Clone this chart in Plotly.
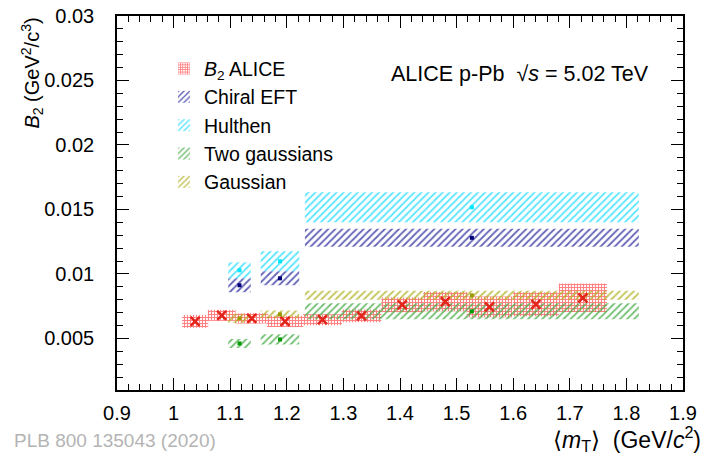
import plotly.graph_objects as go

# ALICE B2 data
alice_mt = [1.038, 1.085, 1.138, 1.197, 1.263, 1.332, 1.404, 1.480, 1.558, 1.640, 1.723]
alice_b2 = [0.00632, 0.00679, 0.00655, 0.00632, 0.00645, 0.00675, 0.00760, 0.00785, 0.00745, 0.00764, 0.00815]
alice_syst = [0.0005, 0.00043, 0.0004, 0.00043, 0.00043, 0.0005, 0.00058, 0.00074, 0.0008, 0.00093, 0.0011]
alice_halfwidth = [0.023, 0.0245, 0.029, 0.032, 0.0345, 0.035, 0.037, 0.039, 0.040, 0.0405, 0.0425]

# Model predictions
model_mt = [1.1165, 1.188, 1.527]
model_halfwidth = [0.020, 0.034, 0.295]
chiral_b2 = [0.00912, 0.00966, 0.01280]
chiral_err = [0.00054, 0.00054, 0.00070]
hulthen_b2 = [0.01028, 0.01098, 0.01517]
hulthen_err = [0.00062, 0.00078, 0.00116]
twogaus_b2 = [0.00461, 0.00492, 0.00710]
twogaus_err = [0.00035, 0.00040, 0.00062]
gaus_b2 = [0.00655, 0.00686, 0.00834]
gaus_err = [0.00035, 0.00030, 0.00035]

x_ticks = [0.9, 1.0, 1.1, 1.2, 1.3, 1.4, 1.5, 1.6, 1.7, 1.8, 1.9]
x_ticklabels = ["0.9", "1", "1.1", "1.2", "1.3", "1.4", "1.5", "1.6", "1.7", "1.8", "1.9"]
y_ticks = [0.005, 0.01, 0.015, 0.02, 0.025, 0.03]
y_ticklabels = ["0.005", "0.01", "0.015", "0.02", "0.025", "0.03"]

FONT = "Liberation Sans, Arial, Helvetica, sans-serif"

fig = go.Figure()


def add_series(name, xs, ys, errs, hws, hatch_color, marker_color, shape, psize, solidity,
               marker_symbol="square", marker_size=4, marker_line=0, opacity=0.75):
    fig.add_trace(go.Bar(
        x=xs,
        y=[2 * e for e in errs],
        base=[y - e for y, e in zip(ys, errs)],
        width=[2 * h for h in hws],
        name=name,
        legendgroup=name,
        opacity=opacity,
        marker=dict(
            color=hatch_color,
            line=dict(width=0),
            pattern=dict(shape=shape, fgcolor=hatch_color, bgcolor="rgba(0,0,0,0)",
                         size=psize, solidity=solidity, fillmode="replace"),
        ),
        hoverinfo="skip",
    ))
    fig.add_trace(go.Scatter(
        x=xs, y=ys, mode="markers", name=name, legendgroup=name, showlegend=False,
        marker=dict(symbol=marker_symbol, size=marker_size, color=marker_color,
                    line=dict(width=marker_line, color=marker_color)),
    ))


add_series("<i>B</i><sub>2</sub> ALICE", alice_mt, alice_b2, alice_syst, alice_halfwidth,
           "#ff3535", "#e3241b", "+", 3, 0.6,
           marker_symbol="x-thin", marker_size=9, marker_line=2.5, opacity=0.62)
add_series("Chiral EFT", model_mt, chiral_b2, chiral_err, model_halfwidth,
           "#2f2fa0", "#00007a", "/", 5, 0.35)
add_series("Hulthen", model_mt, hulthen_b2, hulthen_err, model_halfwidth,
           "#22ddff", "#00e8ff", "/", 5, 0.35)
add_series("Two gaussians", model_mt, twogaus_b2, twogaus_err, model_halfwidth,
           "#44aa44", "#009a00", "/", 5, 0.35)
add_series("Gaussian", model_mt, gaus_b2, gaus_err, model_halfwidth,
           "#b0b020", "#999900", "/", 5, 0.35)

axis_common = dict(
    showgrid=False, zeroline=False, showline=True, linecolor="black", linewidth=1.5,
    mirror="ticks", ticks="inside", ticklen=12, tickwidth=1.2, tickcolor="black",
    tickfont=dict(family=FONT, size=20, color="black"), automargin=False,
)

fig.update_xaxes(
    range=[0.9, 1.9], tickvals=x_ticks, ticktext=x_ticklabels,
    minor=dict(dtick=0.02, tick0=0.9, ticks="inside", ticklen=6, tickwidth=1, tickcolor="black"),
    ticklabelstandoff=4,
    **axis_common,
)
fig.update_yaxes(
    range=[0.001, 0.03], tickvals=y_ticks, ticktext=y_ticklabels,
    minor=dict(dtick=0.001, tick0=0, ticks="inside", ticklen=6, tickwidth=1, tickcolor="black"),
    ticklabelstandoff=17,
    **axis_common,
)

fig.update_layout(
    width=712, height=456,
    margin=dict(l=117, r=29, t=16, b=66, autoexpand=False),
    plot_bgcolor="white", paper_bgcolor="white",
    barmode="overlay",
    font=dict(family=FONT, size=20, color="black"),
    showlegend=True,
    legend=dict(
        x=0.083, y=0.911, xanchor="left", yanchor="top",
        bgcolor="rgba(0,0,0,0)", borderwidth=0,
        font=dict(family=FONT, size=19.5, color="black"),
        itemsizing="constant", tracegroupgap=0,
    ),
    annotations=[
        dict(text="ALICE p-Pb  √<i>s</i> = 5.02 TeV", xref="paper", yref="paper",
             x=0.480, y=0.846, xanchor="left", yanchor="middle", showarrow=False,
             font=dict(family=FONT, size=21.5, color="black")),
        dict(text="PLB 800 135043 (2020)", xref="paper", yref="paper",
             x=-0.185, y=-0.134, xanchor="left", yanchor="middle", showarrow=False,
             font=dict(family=FONT, size=19, color="#b4b4b4")),
        dict(text="⟨<i>m</i><sub>T</sub>⟩  (GeV/<i>c</i><sup>2</sup>)", xref="paper", yref="paper",
             x=1.035, y=-0.13, xanchor="right", yanchor="middle", showarrow=False,
             font=dict(family=FONT, size=23, color="black")),
        dict(text="<i>B</i><sub>2</sub> (GeV<sup>2</sup>/c<sup>3</sup>)", xref="paper", yref="paper",
             x=-0.15, y=1.0, xanchor="center", yanchor="top", textangle=-90, showarrow=False,
             font=dict(family=FONT, size=20, color="black")),
    ],
)

# remove the page's default body margin so the figure fills the window exactly
fig.write_html("out.html", config={"displayModeBar": False},
               post_script="document.body.style.margin='0';")
